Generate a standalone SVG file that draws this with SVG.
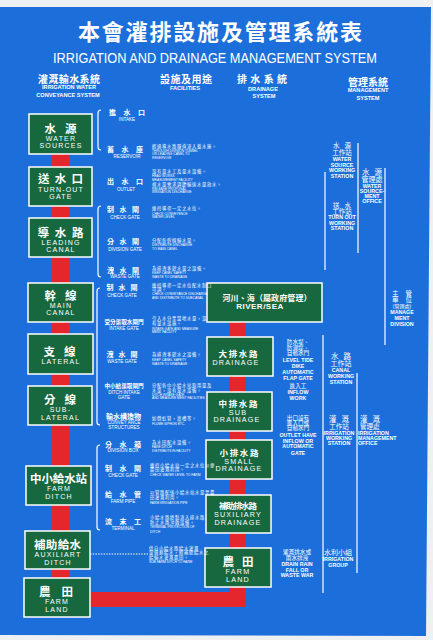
<svg xmlns="http://www.w3.org/2000/svg" width="433" height="640" viewBox="0 0 433 640">
<style>
.t{font-family:"Liberation Sans","Noto Sans CJK TC",sans-serif;fill:#fff}
.m{text-anchor:middle}
.box{fill:#17683e;stroke:#fff;stroke-width:1.5}
.red{fill:#e3272d}
.ln{stroke:#fff;stroke-width:1.2;fill:none}
.dot{stroke:#fff;stroke-width:1;stroke-dasharray:1.5 1.2;fill:none}
.cb{font-size:11.5px;font-weight:bold}
.eb{font-size:7px;letter-spacing:1.2px}
.dcb{font-size:8.5px;font-weight:bold}
.deb{font-size:7.2px;letter-spacing:1.2px}
.hc{font-size:10px;font-weight:bold}
.he{font-size:5.6px;font-weight:bold}
.fl{font-size:7px;font-weight:bold}
.fls{font-size:5.6px;font-weight:bold}
.fe{font-size:4.6px}
.dc{font-size:4.3px;letter-spacing:0.7px}
.de{font-size:3.3px}
.nc{font-size:5.6px}
.ne{font-size:5.3px;font-weight:bold}
.mc{font-size:6.5px}
.me{font-size:5.3px;font-weight:bold}
</style>
<rect x="0" y="0" width="433" height="640" fill="#eef0f2"/>
<polygon points="0,7 431,7 426,636 0,635" fill="#1c6fda"/>

<g id="title">
<text class="t m" x="220" y="40" font-size="22" font-weight="bold" textLength="284" lengthAdjust="spacing">本會灌排設施及管理系統表</text>
<text class="t m" x="215" y="63" font-size="14.5" textLength="324" lengthAdjust="spacingAndGlyphs">IRRIGATION AND DRAINAGE MANAGEMENT SYSTEM</text>
</g>

<g id="headers">
<text class="t m hc" x="69" y="83" textLength="62">灌溉輸水系統</text>
<text class="t m he" x="69" y="88.5">IRRIGATION WATER</text>
<text class="t m he" x="68" y="96.5">CONVEYANCE SYSTEM</text>
<text class="t m hc" x="186" y="83" textLength="52">設施及用途</text>
<text class="t m he" x="185" y="90">FACILITIES</text>
<text class="t m hc" x="262" y="83" textLength="50">排水系統</text>
<text class="t m he" x="263" y="91">DRAINAGE</text>
<text class="t m he" x="264" y="98">SYSTEM</text>
<text class="t m hc" x="368" y="86" textLength="40">管理系統</text>
<text class="t m he" x="368" y="92">MANAGEMENT</text>
<text class="t m he" x="368" y="99.5">SYSTEM</text>
</g>

<g id="connectors">
<rect class="red" x="52" y="150" width="17" height="450"/>
<rect class="red" x="60" y="592" width="186" height="15"/>
<rect class="red" x="229" y="320" width="17" height="287"/>
<path class="dot" d="M90,554 H148"/>
<path class="ln" d="M101,110 q-3,0 -3,3 V147 q0,3 3,3"/>
<path class="ln" d="M101,206 q-3,0 -3,3 V274 q0,3 3,3"/>
<path class="ln" d="M100,288 q-3,0 -3,3 V422 q0,3 3,3"/>
<path class="ln" d="M100,445 q-3,0 -3,3 V527 q0,3 3,3"/>
<path class="ln" d="M325,172 V270"/>
<path class="ln" d="M358,143 V253"/>
<path class="ln" d="M385,168 V345"/>
<path class="ln" d="M323,335 V593"/>
<path class="ln" d="M357,373 V573"/>
</g>

<g id="water-sources"><rect class="box" x="29" y="114" width="63" height="40"/>
<text class="t m cb" x="60.5" y="132.5" textLength="32">水 源</text>
<text class="t m eb" x="61" y="140.5">WATER</text>
<text class="t m eb" x="61" y="148">SOURCES</text></g>
<g id="turn-out-gate"><rect class="box" x="29" y="167" width="63" height="39"/>
<text class="t m cb" x="60.5" y="182.5" textLength="45">送水口</text>
<text class="t m eb" x="61" y="191.5">TURN-OUT</text>
<text class="t m eb" x="61" y="199">GATE</text></g>
<g id="leading-canal"><rect class="box" x="29" y="218" width="63" height="39"/>
<text class="t m cb" x="60.5" y="236.5" textLength="46">導水路</text>
<text class="t m eb" x="61" y="244.5">LEADING</text>
<text class="t m eb" x="61" y="252">CANAL</text></g>
<g id="main-canal"><rect class="box" x="28" y="283" width="65" height="39"/>
<text class="t m cb" x="60.5" y="299.5" textLength="32">幹 線</text>
<text class="t m eb" x="61" y="307.5">MAIN</text>
<text class="t m eb" x="61" y="315">CANAL</text></g>
<g id="lateral"><rect class="box" x="28" y="334" width="65" height="40"/>
<text class="t m cb" x="59.5" y="355.5" textLength="32">支 線</text>
<text class="t m eb" x="61" y="363.5">LATERAL</text></g>
<g id="sub-lateral"><rect class="box" x="28" y="386" width="64" height="39"/>
<text class="t m cb" x="60" y="404" textLength="32">分 線</text>
<text class="t m eb" x="60.5" y="412">SUB-</text>
<text class="t m eb" x="60.5" y="419.5">LATERAL</text></g>
<g id="farm-ditch"><rect class="box" x="26" y="466" width="65" height="39"/>
<text class="t m cb" x="58.5" y="482.5" font-size="11" textLength="57">中小給水站</text>
<text class="t m eb" x="59" y="491">FARM</text>
<text class="t m eb" x="59" y="499">DITCH</text></g>
<g id="auxiliary-ditch"><rect class="box" x="25" y="531" width="65" height="38"/>
<text class="t m cb" x="57.5" y="548.5" font-size="11" textLength="47">補助給水</text>
<text class="t m eb" x="58" y="557">AUXILIART</text>
<text class="t m eb" x="58" y="565">DITCH</text></g>
<g id="farm-land"><rect class="box" x="24" y="578" width="66" height="39"/>
<text class="t m cb" x="56" y="596" textLength="34">農 田</text>
<text class="t m eb" x="57" y="604">FARM</text>
<text class="t m eb" x="57" y="612">LAND</text></g>

<g id="river-sea"><rect class="box" x="207" y="283" width="115" height="39"/>
<text class="t m" x="267" y="300.5" font-size="8" font-weight="bold" textLength="89">河川、海（屬政府管理）</text>
<text class="t m" x="260" y="309" font-size="8" font-weight="bold" letter-spacing="0.5">RIVER/SEA</text></g>
<g id="drainage"><rect class="box" x="207" y="337" width="66" height="39"/>
<text class="t m dcb" x="238" y="356.5" textLength="39">大 排 水 路</text>
<text class="t m deb" x="236" y="364.5">DRAINAGE</text></g>
<g id="sub-drainage"><rect class="box" x="207" y="392" width="65" height="39"/>
<text class="t m dcb" x="238" y="406.5" textLength="39">中 排 水 路</text>
<text class="t m deb" x="238" y="414.5">SUB</text>
<text class="t m deb" x="237" y="422">DRAINAGE</text></g>
<g id="small-drainage"><rect class="box" x="206" y="440" width="66" height="39"/>
<text class="t m dcb" x="239" y="455.5" textLength="39">小 排 水 路</text>
<text class="t m deb" x="239" y="463.5">SMALL</text>
<text class="t m deb" x="239" y="471">DRAINAGE</text></g>
<g id="auxiliary-drainage"><rect class="box" x="206" y="495" width="65" height="38"/>
<text class="t m dcb" x="238" y="508.5" font-size="7.5" textLength="38">補助排水路</text>
<text class="t m deb" x="238" y="517">SUXILIARY</text>
<text class="t m deb" x="238" y="525">DRAINAGE</text></g>
<g id="farm-land-drainage"><rect class="box" x="205" y="548" width="66" height="39"/>
<text class="t m cb" x="238" y="565.5" textLength="31">農 田</text>
<text class="t m deb" x="238" y="574">FARM</text>
<text class="t m deb" x="238" y="582">LAND</text></g>

<g id="facilities">
<text class="t m fl" x="127" y="115" textLength="36">進 水 口</text>
<text class="t m fe" x="127" y="121">INTAKE</text>
<text class="t m fl" x="125" y="152" textLength="36">蓄 水 庫</text>
<text class="t m fe" x="127" y="157.5">RESERVOIR</text>
<text class="t dc" x="152" y="148">經過導水路隧道流入蓄水庫。</text>
<text class="t de" x="152" y="151.5">THROUGH DIVISION TUNNEL</text>
<text class="t de" x="152" y="155">OR LEADING CANEL TO</text>
<text class="t de" x="152" y="158.5">RESERVOIR</text>
<text class="t m fl" x="125" y="184" textLength="36">出 水 口</text>
<text class="t m fe" x="126" y="190.5">OUTLET</text>
<text class="t dc" x="152" y="173">設有量水工及量水設備。</text>
<text class="t de" x="152" y="177">HEAD WORKS</text>
<text class="t de" x="152" y="181">MEASUREMENT FACILITY</text>
<text class="t dc" x="152" y="185.5">視水量需求調節輸送水量放水。</text>
<text class="t de" x="152" y="189.5">RELEASE PROPOSAL</text>
<text class="t de" x="152" y="193">IRRIGATION DISCHARGE</text>
<text class="t m fl" x="123" y="212" textLength="32">制 水 閘</text>
<text class="t m fe" x="125" y="219">CHECK GATE</text>
<text class="t dc" x="152" y="210">維持導渠一定之水位。</text>
<text class="t de" x="152" y="214.5">CHECK CONVEYENCE</text>
<text class="t de" x="152" y="218">WATER LEVEL</text>
<text class="t m fl" x="123" y="244" textLength="32">分 水 閘</text>
<text class="t m fe" x="125" y="251">DIVISION GATE</text>
<text class="t dc" x="152" y="241.5">分配各幹線輸水量。</text>
<text class="t de" x="152" y="246">DISTRIBUTE DISCHARGE</text>
<text class="t de" x="152" y="250">TO MAIN CANEL</text>
<text class="t m fl" x="123" y="273" textLength="32">洩 水 閘</text>
<text class="t m fe" x="125" y="278">WASTE GATE</text>
<text class="t dc" x="152" y="270">為排洩多餘水量之設備。</text>
<text class="t de" x="152" y="274">KEEP CANEL SAFETY</text>
<text class="t de" x="152" y="278">WASTE TO DRAINAGE</text>
<text class="t m fl" x="122" y="290" textLength="31">制 水 閘</text>
<text class="t m fe" x="122" y="297">CHECK GATE</text>
<text class="t dc" x="152" y="286.5">維持導渠一定水位配水制口</text>
<text class="t dc" x="152" y="291">可調。</text>
<text class="t de" x="152" y="295">CHECK CONVEYANCE DISCHARGE</text>
<text class="t de" x="152" y="298.5">AND DISTRIBUTE TO SUBCANAL</text>
<text class="t m fls" x="124" y="324">受分渠取水閘門</text>
<text class="t m fe" x="124" y="330">INTAKE  GATE</text>
<text class="t dc" x="152" y="320">引入水分至當地水量，設</text>
<text class="t dc" x="152" y="325">有量水設施。</text>
<text class="t de" x="152" y="329.5">INTAKE GATE AND MEASURE</text>
<text class="t de" x="152" y="333">MENT FACILITY</text>
<text class="t m fl" x="122" y="357" textLength="31">洩 水 閘</text>
<text class="t m fe" x="122" y="363">WASTE GATE</text>
<text class="t dc" x="152" y="356">為排洩多餘水之設備。</text>
<text class="t de" x="152" y="360.5">KEEP CANEL SAFETY</text>
<text class="t de" x="152" y="365">WASTE TO DRAINAGE</text>
<text class="t m fls" x="124" y="387.5">中小給渠取閘門</text>
<text class="t m fe" x="124" y="393.5">DITCH INTAKE</text>
<text class="t m fe" x="124" y="399">GATE</text>
<text class="t dc" x="152" y="387">分配各中小給水站取用量及</text>
<text class="t dc" x="152" y="391.5">水量，設有量水設備。</text>
<text class="t de" x="152" y="395.5">DITCH INTAKE GATE</text>
<text class="t de" x="152" y="399">AND MEASURE MENT FACILITIES</text>
<text class="t m fl" x="123.5" y="418.5" font-size="6.5">輸水構造物</text>
<text class="t m fe" x="124" y="423.5">CONVEY ANCE</text>
<text class="t m fe" x="124" y="428.5">STRUCTURES</text>
<text class="t dc" x="152" y="420">如倒虹管，渡槽等。</text>
<text class="t de" x="152" y="424.5">FLUME SIPHON ETC.</text>
<text class="t m fl" x="123" y="446.5" textLength="36">分 水 箱</text>
<text class="t m fe" x="123" y="452">DIVISION BOX</text>
<text class="t dc" x="152" y="443.5">為水田配水設備。</text>
<text class="t de" x="152" y="448">FARE DITCH</text>
<text class="t de" x="152" y="452">DISTRIBUTION FACILITY</text>
<text class="t m fl" x="123" y="470.5" textLength="36">制 水 閘</text>
<text class="t m fe" x="123" y="476.5">CHECK GATE</text>
<text class="t dc" x="150" y="466.5">維持小給水站一定之水位以便</text>
<text class="t dc" x="150" y="471">農田灌溉利用。</text>
<text class="t de" x="150" y="476">CHECK WATER LEVEL TO FARM</text>
<text class="t m fl" x="123" y="497" textLength="36">給 水 管</text>
<text class="t m fe" x="123" y="503">FARM PIPE</text>
<text class="t dc" x="150" y="494">以管路配送小給水站水量至農</text>
<text class="t dc" x="150" y="499">田灌溉利用。</text>
<text class="t de" x="150" y="504">FARM IRRIGATION PIPE</text>
<text class="t m fl" x="123" y="524" textLength="36">流 末 工</text>
<text class="t m fe" x="123" y="530">TERMINAL</text>
<text class="t dc" x="150" y="519">小給水路終點流入排水路</text>
<text class="t dc" x="150" y="523.5">防止水路沖蝕設備。</text>
<text class="t de" x="150" y="528">TERMINAL PROTECTION OF</text>
<text class="t de" x="150" y="532.5">DITCH</text>
<text class="t dc" x="149" y="549.5">供自小給水路給水灌溉</text>
<text class="t dc" x="149" y="554">量過剩給水，經補助給水之</text>
<text class="t dc" x="149" y="558.5">給輸水灌溉農田。</text>
<text class="t de" x="149" y="563">SUB FARM DITCH TO FARM</text>
</g>

<g id="drainage-notes">
<text class="t m nc" x="298" y="344">防水堤、</text>
<text class="t m nc" x="298" y="349.5">防潮堤、</text>
<text class="t m nc" x="298" y="355">自動水門</text>
<text class="t m ne" x="298" y="362">LEVEL TIDE</text>
<text class="t m ne" x="298" y="368">DIKE</text>
<text class="t m ne" x="298" y="374">AUTOMATIC</text>
<text class="t m ne" x="298" y="380">FLAP GATE</text>
<text class="t m nc" x="298" y="387.5">進入工</text>
<text class="t m ne" x="298" y="394">INFLOW</text>
<text class="t m ne" x="298" y="400">WORK</text>
<text class="t m nc" x="298" y="419.5">出口設有</text>
<text class="t m nc" x="298" y="424.5">進入口或</text>
<text class="t m nc" x="298" y="429.5">自動水門</text>
<text class="t m ne" x="298" y="437">OUTLET HAVE</text>
<text class="t m ne" x="298" y="442.5">INFLOW OR</text>
<text class="t m ne" x="298" y="448">AUTOMATIC</text>
<text class="t m ne" x="298" y="454.5">GATE</text>
<text class="t m nc" x="297" y="553.5">灌溉排水或</text>
<text class="t m nc" x="297" y="559.5">雨水排洩</text>
<text class="t m ne" x="297" y="566">DRAIN RAIN</text>
<text class="t m ne" x="297" y="571.5">FALL OR</text>
<text class="t m ne" x="297" y="577">WASTE WAR</text>
</g>

<g id="water-source-working-station">
<text class="t m mc" x="342" y="147.5" textLength="18">水 源</text>
<text class="t m mc" x="342" y="154.5">工作站</text>
<text class="t m me" x="342" y="161">WATER</text>
<text class="t m me" x="342" y="166.5">SOURCE</text>
<text class="t m me" x="342" y="172">WORKING</text>
<text class="t m me" x="342" y="177.5">STATION</text>
</g>
<g id="turn-out-working-station">
<text class="t m mc" x="342" y="207.5" textLength="18">送 水</text>
<text class="t m mc" x="342" y="213.5">工作站</text>
<text class="t m me" x="342" y="219">TURN OUT</text>
<text class="t m me" x="342" y="224.5">WORKING</text>
<text class="t m me" x="342" y="230">STATION</text>
</g>
<g id="water-source-management-office">
<text class="t m" x="372" y="174.5" font-size="7.5" textLength="20">水 源</text>
<text class="t m" x="372" y="182" font-size="7">管理處</text>
<text class="t m me" x="372" y="187.5">WATER</text>
<text class="t m me" x="372" y="192.5">SOURCE-</text>
<text class="t m me" x="372" y="197.5">MENT</text>
<text class="t m me" x="372" y="203">OFFICE</text>
</g>
<g id="management-division">
<text class="t m mc" x="402" y="295.5" textLength="20">主 管</text>
<text class="t m mc" x="402" y="302" textLength="20">單 位</text>
<text class="t m" x="402" y="307.5" font-size="5">(管理處)</text>
<text class="t m me" x="402" y="314">MANAGE</text>
<text class="t m me" x="402" y="320">MENT</text>
<text class="t m me" x="402" y="326">DIVISION</text>
</g>
<g id="canal-working-station">
<text class="t m" x="341" y="358.5" font-size="7.5" textLength="20">水 路</text>
<text class="t m" x="341" y="366" font-size="7">工作站</text>
<text class="t m me" x="341" y="372">CANAL</text>
<text class="t m me" x="341" y="377.5">WORKING</text>
<text class="t m me" x="341" y="383.5">STATION</text>
</g>
<g id="irrigation-working-station">
<text class="t m" x="339" y="422" font-size="7.5" textLength="20">灌 溉</text>
<text class="t m" x="339" y="428.5" font-size="6.5">工作站</text>
<text class="t m me" x="339" y="434.5">IRRIGATION</text>
<text class="t m me" x="339" y="439.5">WORKING</text>
<text class="t m me" x="339" y="445">STATION</text>
</g>
<g id="irrigation-management-office">
<text class="t" x="360" y="422" font-size="7.5" textLength="20">灌 溉</text>
<text class="t" x="360" y="428.5" font-size="6.5">管理處</text>
<text class="t me" x="358" y="434.5">IRRIGATION</text>
<text class="t me" x="358" y="439.5">MANAGEMENT</text>
<text class="t me" x="358" y="445">OFFICE</text>
</g>
<g id="irrigation-group">
<text class="t m" x="338" y="555" font-size="7">水利小組</text>
<text class="t m me" x="338" y="561">IRRIGATION</text>
<text class="t m me" x="338" y="566.5">GROUP</text>
</g>
</svg>
